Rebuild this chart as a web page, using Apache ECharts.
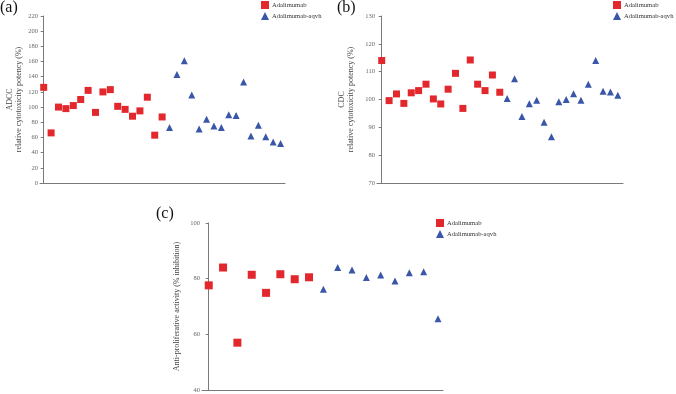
<!DOCTYPE html>
<html>
<head>
<meta charset="utf-8">
<script src="https://cdn.jsdelivr.net/npm/echarts@6/dist/echarts.min.js"></script>
<style>
  html, body { margin: 0; padding: 0; background: #fff; }
  #main { width: 676px; height: 394px; }
</style>
</head>
<body>
<div id="main"></div>
<script>
// 数据
var seriesNames = ['Adalimumab', 'Adalimumab-aqvh'];

// (a) ADCC
var adccRef  = [126, 66, 100, 98, 102, 110, 122, 93, 120, 123, 101, 97, 88, 95, 113, 63, 87];
var adccAqvh = [73, 143, 161, 116, 71, 84, 75, 73, 90, 89, 133, 62, 76, 61, 54, 52];
var adccTicks = { min: 0, max: 220, interval: 20 };

// (b) CDC
var cdcRef  = [114, 99.6, 102, 98.6, 102.4, 103.2, 105.5, 100.2, 98.4, 103.7, 109.4, 96.8, 114.2, 105.5, 103.2, 108.8, 102.6];
var cdcAqvh = [100.4, 107.5, 93.9, 98.5, 99.7, 91.8, 86.6, 99.2, 100, 102.1, 99.7, 105.5, 114, 103, 102.7, 101.5];
var cdcTicks = { min: 70, max: 130, interval: 10 };

// (c) anti-proliferative
var apRef  = [77.6, 84, 57, 81.4, 74.9, 81.6, 79.8, 80.5];
var apAqvh = [76.2, 84, 83.1, 80.4, 81.3, 79.2, 82.1, 82.5, 65.6];
var apTicks = { min: 40, max: 100, interval: 20 };

var RED = '#e2282c';
var BLUE = '#3a56a8';
var AXIS = '#7a7a7a';
var SERIF = '"Liberation Serif", "DejaVu Serif", serif';

// 把数组变成 [序号, 值]
function toPoints(arr, offset) {
    var res = [];
    for (var i = 0; i < arr.length; i++) {
        res.push([i + offset, arr[i]]);
    }
    return res;
}

function makeY(idx, ticks, name, gap) {
    return {
        type: 'value', gridIndex: idx,
        min: ticks.min, max: ticks.max, interval: ticks.interval,
        name: name, nameLocation: 'middle', nameGap: gap, nameRotate: 90,
        nameTextStyle: { fontFamily: SERIF, fontSize: 8, color: '#444', lineHeight: 9 },
        axisLine: { show: true, lineStyle: { color: AXIS, width: 1 } },
        axisTick: { show: true, length: 3, lineStyle: { color: AXIS } },
        axisLabel: { fontFamily: SERIF, fontSize: 6.5, color: '#666', margin: 2 },
        splitLine: { show: false }
    };
}

function makeX(idx, min, max) {
    return {
        type: 'value', gridIndex: idx, min: min, max: max,
        axisLine: { show: true, onZero: false, lineStyle: { color: AXIS, width: 1 } },
        axisTick: { show: false }, axisLabel: { show: false }, splitLine: { show: false }
    };
}

function makeScatter(name, idx, arr, offset, symbol, color, size) {
    return {
        name: name, type: 'scatter', xAxisIndex: idx, yAxisIndex: idx,
        symbol: symbol, symbolSize: size,
        itemStyle: { color: color, opacity: 1 },
        data: toPoints(arr, offset)
    };
}

function makeLegend(left, top) {
    return {
        data: seriesNames, orient: 'vertical', left: left, top: top,
        itemWidth: 8, itemHeight: 8, itemGap: 3, padding: 0,
        textStyle: { fontFamily: SERIF, fontSize: 6.6, color: '#333', padding: [0, 0, 0, -2] }
    };
}

var chart = echarts.init(document.getElementById('main'));

var option = {
    animation: false,
    backgroundColor: '#fff',
    grid: [
        { left: 40, top: 16, width: 245, height: 167 },
        { left: 377, top: 16, width: 246, height: 167 },
        { left: 202, top: 223, width: 241, height: 167 }
    ],
    xAxis: [
        makeX(0, -0.5, 32.6),
        makeX(1, -0.64, 32.7),
        makeX(2, -0.47, 16.35)
    ],
    yAxis: [
        makeY(0, adccTicks, 'ADCC\nrelative cytotoxicity potency (%)', 17),
        makeY(1, cdcTicks, 'CDC\nrelative cytotoxicity potency (%)', 22),
        makeY(2, apTicks, 'Anti-proliferative activity (% inhibition)', 21)
    ],
    legend: [
        makeLegend(261, 1),
        makeLegend(613, 1),
        makeLegend(436, 219)
    ],
    series: [
        makeScatter(seriesNames[0], 0, adccRef, 0, 'rect', RED, 7),
        makeScatter(seriesNames[1], 0, adccAqvh, adccRef.length, 'triangle', BLUE, 7),
        makeScatter(seriesNames[0], 1, cdcRef, 0, 'rect', RED, 7),
        makeScatter(seriesNames[1], 1, cdcAqvh, cdcRef.length, 'triangle', BLUE, 7),
        makeScatter(seriesNames[0], 2, apRef, 0, 'rect', RED, 8),
        makeScatter(seriesNames[1], 2, apAqvh, apRef.length, 'triangle', BLUE, 7)
    ],
    graphic: [
        { type: 'text', left: 0, top: 0, style: { text: '(a)', font: '16px ' + SERIF, fill: '#111' } },
        { type: 'text', left: 337, top: 0, style: { text: '(b)', font: '16px ' + SERIF, fill: '#111' } },
        { type: 'text', left: 156, top: 206, style: { text: '(c)', font: '16px ' + SERIF, fill: '#111' } }
    ]
};

chart.setOption(option);
</script>
</body>
</html>
